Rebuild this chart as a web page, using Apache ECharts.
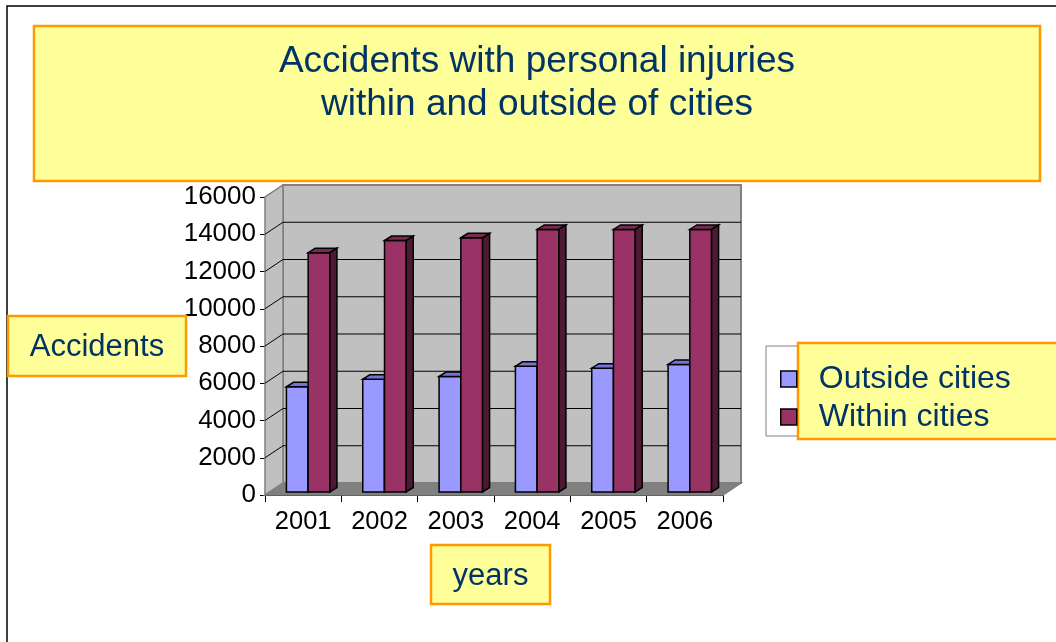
<!DOCTYPE html>
<html>
<head>
<meta charset="utf-8">
<script src="https://cdn.jsdelivr.net/npm/echarts@6/dist/echarts.min.js"></script>
<style>
html, body { margin: 0; padding: 0; background: #fff; }
#main { width: 1056px; height: 642px; }
</style>
</head>
<body>
<div id="main"></div>
<script>
var years = ['2001', '2002', '2003', '2004', '2005', '2006'];
var outsideCities = [5650, 6050, 6200, 6750, 6650, 6850];
var withinCities = [12850, 13500, 13650, 14100, 14100, 14100];
var seriesNames = ['Outside cities', 'Within cities'];
var yMax = 16000;
var yStep = 2000;
var gridTicks = [2000, 4000, 6000, 8000, 10000, 12000, 14000];
var titleText = 'Accidents with personal injuries\nwithin and outside of cities';
var yName = 'Accidents';
var xName = 'years';

var FONT = 'Arial, "Liberation Sans", sans-serif';
var NAVY = '#003366';
var YELLOW = '#ffff99';
var ORANGE = '#ff9900';
var DX = 18, DY = -12;     // depth of the 3d box (back wall offset)
var BX = 5, BY = -3;       // front face of bars sits a bit inside the box
var DDX = 7, DDY = -4.5;   // depth of each bar

var myChart = echarts.init(document.getElementById('main'));

// back wall, side wall and floor
function renderWalls(params, api) {
    var cs = params.coordSys;
    var x0 = cs.x, x1 = cs.x + cs.width;
    var y0 = api.coord([0, 0])[1];
    var y1 = api.coord([0, yMax])[1];
    return {
        type: 'group',
        children: [
            { type: 'rect', shape: { x: x0 + DX, y: y1 + DY, width: cs.width, height: y0 - y1 },
              style: { fill: '#c0c0c0', stroke: '#808080', lineWidth: 2 } },
            { type: 'polygon', shape: { points: [[x0, y0], [x0, y1], [x0 + DX, y1 + DY], [x0 + DX, y0 + DY]] },
              style: { fill: '#c0c0c0', stroke: '#808080', lineWidth: 1.5 } },
            { type: 'polygon', shape: { points: [[x0, y0], [x1, y0], [x1 + DX, y0 + DY], [x0 + DX, y0 + DY]] },
              style: { fill: '#808080', stroke: '#808080', lineWidth: 1.5 } }
        ]
    };
}

// grid lines on back wall + the slanted ones on the side wall
function renderGridLine(params, api) {
    var cs = params.coordSys;
    var x0 = cs.x, x1 = cs.x + cs.width;
    var y = api.coord([0, api.value(1)])[1];
    var st = { stroke: '#000', lineWidth: 1 };
    return {
        type: 'group',
        children: [
            { type: 'line', shape: { x1: x0 + DX, y1: y + DY, x2: x1 + DX, y2: y + DY }, style: st },
            { type: 'line', shape: { x1: x0, y1: y, x2: x0 + DX, y2: y + DY }, style: st }
        ]
    };
}

function barRender(side, topColor, sideColor) {
    return function (params, api) {
        var base = api.coord([api.value(0), 0]);
        var tip = api.coord([api.value(0), api.value(1)]);
        var w = api.size([1, 0])[0] * 0.285;
        var l = base[0] + BX + (side === 0 ? -w : 0);
        var yb = base[1] + BY, yt = tip[1] + BY;
        return {
            type: 'group',
            children: [
                { type: 'rect', shape: { x: l, y: yt, width: w, height: yb - yt },
                  style: { fill: api.visual('color'), stroke: '#000', lineWidth: 1.5 } },
                { type: 'polygon', shape: { points: [[l, yt], [l + w, yt], [l + w + DDX, yt + DDY], [l + DDX, yt + DDY]] },
                  style: { fill: topColor, stroke: '#000', lineWidth: 1.5 } },
                { type: 'polygon', shape: { points: [[l + w, yt], [l + w + DDX, yt + DDY], [l + w + DDX, yb + DDY], [l + w, yb]] },
                  style: { fill: sideColor, stroke: '#000', lineWidth: 1.5 } }
            ]
        };
    };
}

// yellow text box; ty = vertical centre of the text
function boxWithText(x, y, w, h, text, size, lh, ty) {
    return {
        type: 'group',
        z: 100,
        children: [
            { type: 'rect', shape: { x: x, y: y, width: w, height: h },
              style: { fill: YELLOW, stroke: ORANGE, lineWidth: 2.5 }, z: 100 },
            { type: 'text', x: x + w / 2, y: ty, z: 101,
              style: { text: text, fill: NAVY, fontSize: size, fontFamily: FONT, lineHeight: lh,
                       align: 'center', verticalAlign: 'middle' } }
        ]
    };
}

option = {
    animation: false,
    backgroundColor: '#fff',
    grid: { left: 265, top: 197, width: 458, height: 298 },
    legend: {
        data: seriesNames,
        orient: 'vertical',
        left: 775,
        top: 358,
        itemWidth: 16,
        itemHeight: 16,
        itemGap: 6,
        icon: 'rect',
        selectedMode: false,
        z: 10,
        itemStyle: { borderColor: '#000', borderWidth: 1.5 },
        textStyle: { fontSize: 32, lineHeight: 31, color: NAVY, fontFamily: FONT, padding: [0, 0, 0, 17] }
    },
    xAxis: {
        type: 'category',
        data: years,
        axisLine: { lineStyle: { color: '#000', width: 1 } },
        axisTick: { show: true, length: 7, lineStyle: { color: '#000' } },
        axisLabel: { fontSize: 25.5, color: '#000', fontFamily: FONT, margin: 14 },
        splitLine: { show: false }
    },
    yAxis: {
        type: 'value',
        min: 0,
        max: yMax,
        interval: yStep,
        axisLine: { show: true, lineStyle: { color: '#000', width: 1 } },
        axisTick: { show: true, length: 5, lineStyle: { color: '#000' } },
        axisLabel: { fontSize: 26, color: '#000', fontFamily: FONT, margin: 9,
                     formatter: function (v) { return String(v); } },
        splitLine: { show: false }
    },
    graphic: [
        { type: 'rect', shape: { x: 7, y: 6, width: 1100, height: 700 },
          style: { fill: 'none', stroke: '#000', lineWidth: 1.5 }, z: 0, silent: true },
        boxWithText(34, 26, 1006, 155, titleText, 37, 43, 83),
        boxWithText(8, 316, 178, 60, yName, 31, 31, 347),
        boxWithText(431, 545, 119, 59, xName, 31, 31, 576),
        { type: 'rect', shape: { x: 766, y: 346, width: 80, height: 90 },
          style: { fill: '#fff', stroke: '#808080', lineWidth: 1 }, z: 1 },
        { type: 'rect', shape: { x: 798, y: 343, width: 270, height: 96 },
          style: { fill: YELLOW, stroke: ORANGE, lineWidth: 2.5 }, z: 2 }
    ],
    series: [
        {
            type: 'custom',
            name: 'walls',
            renderItem: renderWalls,
            data: [[0, 0]],
            silent: true,
            z: 1
        },
        {
            type: 'custom',
            name: 'grid',
            renderItem: renderGridLine,
            data: gridTicks.map(function (v) { return [0, v]; }),
            silent: true,
            z: 1
        },
        {
            type: 'custom',
            name: seriesNames[0],
            renderItem: barRender(0, '#7373d6', '#5c5cb0'),
            itemStyle: { color: '#9999ff' },
            encode: { x: 0, y: 1 },
            data: years.map(function (y, i) { return [i, outsideCities[i]]; }),
            z: 3
        },
        {
            type: 'custom',
            name: seriesNames[1],
            renderItem: barRender(1, '#7a2952', '#4d1a33'),
            itemStyle: { color: '#993366' },
            encode: { x: 0, y: 1 },
            data: years.map(function (y, i) { return [i, withinCities[i]]; }),
            z: 3
        }
    ]
};
myChart.setOption(option, true);
</script>
</body>
</html>
